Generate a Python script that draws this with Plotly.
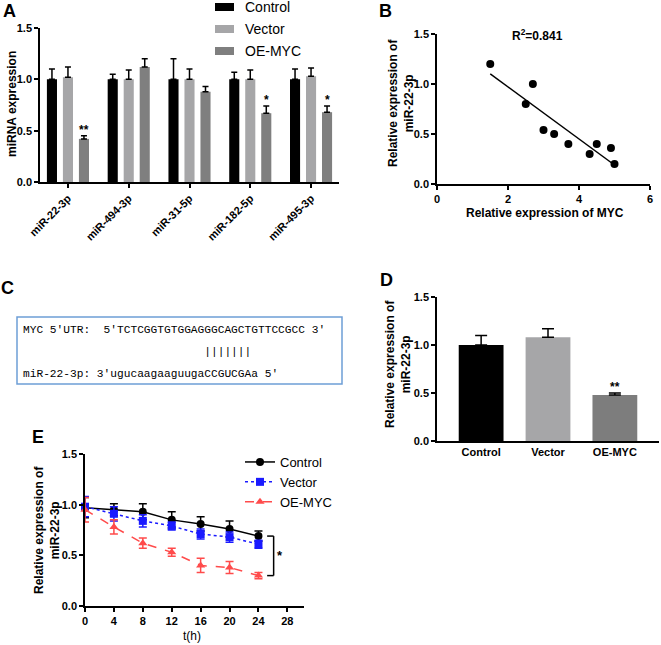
import numpy as np
import plotly.graph_objects as go

W, H = 661, 645
def fx(p): return p / W
def fy(p): return 1 - p / H

FONT = "Arial, Liberation Sans, sans-serif"
MONO = "Courier New, Liberation Mono, monospace"

# ---------------- Panel A data ----------------
mirnas = ["miR-22-3p", "miR-494-3p", "miR-31-5p", "miR-182-5p", "miR-495-3p"]
a_series = ["Control", "Vector", "OE-MYC"]
a_control = [1.00, 1.00, 1.00, 1.00, 1.00]
a_control_err = [0.10, 0.05, 0.20, 0.07, 0.10]
a_vector = [1.02, 1.00, 1.00, 1.00, 1.03]
a_vector_err = [0.10, 0.09, 0.10, 0.09, 0.08]
a_oe = [0.42, 1.12, 0.88, 0.67, 0.68]
a_oe_err = [0.03, 0.08, 0.05, 0.07, 0.06]
a_sig = ["**", "", "", "*", "*"]

# ---------------- Panel B data ----------------
b_myc = [1.5, 2.5, 2.7, 3.0, 3.3, 3.7, 4.3, 4.5, 4.9, 5.0]
b_mir = [1.20, 0.80, 1.00, 0.54, 0.50, 0.40, 0.30, 0.40, 0.36, 0.20]
b_r2 = "0.841"

# ---------------- Panel C text ----------------
c_lines = [
    "MYC 5′UTR:  5'TCTCGGTGTGGAGGGCAGCTGTTCCGCC 3'",
    " " * 27 + "|||||||",
    "miR-22-3p: 3'ugucaagaaguugaCCGUCGAa 5'",
]

# ---------------- Panel D data ----------------
d_groups = ["Control", "Vector", "OE-MYC"]
d_vals = [1.00, 1.08, 0.48]
d_err = [0.10, 0.09, 0.02]
d_sig = ["", "", "**"]

# ---------------- Panel E data ----------------
e_t = [0, 4, 8, 12, 16, 20, 24]
e_control = [0.97, 0.95, 0.93, 0.85, 0.81, 0.76, 0.69]
e_control_err = [0.10, 0.06, 0.08, 0.08, 0.07, 0.08, 0.05]
e_vector = [0.98, 0.91, 0.84, 0.79, 0.71, 0.68, 0.61]
e_vector_err = [0.10, 0.07, 0.06, 0.04, 0.05, 0.05, 0.04]
e_oe = [0.95, 0.78, 0.62, 0.53, 0.40, 0.38, 0.30]
e_oe_err = [0.12, 0.07, 0.05, 0.04, 0.07, 0.06, 0.03]

C_BLACK = "#000000"
C_LGRAY = "#a6a6a8"
C_DGRAY = "#7f7f7f"
A_COLORS = [C_BLACK, C_LGRAY, C_DGRAY]

fig = go.Figure()

# ---- A: grouped bars ----
for name, vals, errs, col in zip(a_series, [a_control, a_vector, a_oe],
                                 [a_control_err, a_vector_err, a_oe_err], A_COLORS):
    fig.add_trace(go.Bar(
        x=mirnas, y=vals, name=name, marker=dict(color=col, line=dict(width=0)),
        error_y=dict(type="data", array=errs, arrayminus=[0] * len(errs), symmetric=False,
                     color="black", thickness=1.5, width=3),
        showlegend=False, xaxis="x", yaxis="y"))

# ---- B: scatter + regression ----
fig.add_trace(go.Scatter(x=b_myc, y=b_mir, mode="markers",
                         marker=dict(color="black", size=8), showlegend=False,
                         xaxis="x2", yaxis="y2"))
slope, icpt = np.polyfit(b_myc, b_mir, 1)
lx = np.array([min(b_myc), max(b_myc)])
fig.add_trace(go.Scatter(x=lx, y=slope * lx + icpt, mode="lines",
                         line=dict(color="black", width=1.5), showlegend=False,
                         xaxis="x2", yaxis="y2"))

# ---- D: bars ----
fig.add_trace(go.Bar(
    x=d_groups, y=d_vals, width=0.67,
    marker=dict(color=[C_BLACK, C_LGRAY, "#7d7d7d"], line=dict(width=0)),
    error_y=dict(type="data", array=d_err, arrayminus=[0] * 3, symmetric=False,
                 color="black", thickness=1.5, width=6),
    showlegend=False, xaxis="x3", yaxis="y3"))

# ---- E: time course ----
for name, vals, errs, col, sym, dash in [
        ("Control", e_control, e_control_err, "#000000", "circle", "solid"),
        ("Vector", e_vector, e_vector_err, "#1a1aff", "square", "dot"),
        ("OE-MYC", e_oe, e_oe_err, "#ff4b4b", "triangle-up", "dash")]:
    fig.add_trace(go.Scatter(
        x=e_t, y=vals, name=name, mode="lines+markers",
        line=dict(color=col, width=1.5, dash=dash),
        marker=dict(color=col, size=8, symbol=sym),
        error_y=dict(type="data", array=errs, color=col, thickness=1.5, width=4),
        cliponaxis=False, xaxis="x4", yaxis="y4", legend="legend"))

TICKFONT = dict(family=FONT, size=11, color="black", weight="bold")

def axis_style(**kw):
    d = dict(showline=True, linecolor="black", linewidth=1.5, ticks="outside",
             ticklen=4, tickwidth=1.5, tickcolor="black", showgrid=False,
             zeroline=False, automargin=False, tickfont=TICKFONT)
    d.update(kw)
    return d

fig.update_layout(
    width=W, height=H, margin=dict(l=0, r=0, t=0, b=0),
    paper_bgcolor="white", plot_bgcolor="white",
    barmode="group", bargap=0.21, bargroupgap=0.37,
    font=dict(family=FONT, color="black"),
    # A
    xaxis=axis_style(domain=[fx(40), fx(339)], anchor="y", range=[-0.46, 4.46],
                     tickangle=-45, type="category"),
    yaxis=axis_style(domain=[fy(182), fy(28)], anchor="x", range=[0, 1.5], dtick=0.5,
                     tickformat=".1f"),
    # B
    xaxis2=axis_style(domain=[fx(437), fx(650)], anchor="y2", range=[0, 6], dtick=2),
    yaxis2=axis_style(domain=[fy(184), fy(34)], anchor="x2", range=[0, 1.5], dtick=0.5,
                      tickformat=".1f"),
    # D
    xaxis3=axis_style(domain=[fx(437), fx(659)], anchor="y3", range=[-0.66, 2.66],
                      ticks=""),
    yaxis3=axis_style(domain=[fy(441), fy(297)], anchor="x3", range=[0, 1.5], dtick=0.5,
                      tickformat=".1f"),
    # E
    xaxis4=axis_style(domain=[fx(85), fx(304)], anchor="y4", range=[0, 30.3], dtick=4,
                      tick0=0),
    yaxis4=axis_style(domain=[fy(606), fy(454)], anchor="x4", range=[0, 1.5], dtick=0.5,
                      tickformat=".1f"),
    legend=dict(x=fx(240), y=fy(447), xanchor="left", yanchor="top",
                font=dict(family=FONT, size=13, color="black"), bgcolor="rgba(0,0,0,0)"),
)

ann = []
def text_ann(text, x, y, size=12, bold=True, angle=0, family=FONT, xanchor="center"):
    f = dict(family=family, size=size, color="black")
    if bold:
        f["weight"] = "bold"
    return dict(text=text, x=fx(x), y=fy(y), xref="paper", yref="paper",
                xanchor=xanchor, yanchor="middle", showarrow=False,
                textangle=angle, font=f)

# panel letters
for letter, x, y in [("A", 9, 11), ("B", 385, 11), ("C", 7, 288), ("D", 386, 280), ("E", 38, 437)]:
    ann.append(text_ann(letter, x, y, size=18))

# axis titles
ann.append(text_ann("miRNA expression", 12, 104, angle=-90))
ann.append(text_ann("Relative expression of<br>miR-22-3p", 401, 103, angle=-90))
ann.append(text_ann("Relative expression of MYC", 545, 213))
ann.append(text_ann("Relative expression of<br>miR-22-3p", 398, 364, angle=-90))
ann.append(text_ann("Relative expression of<br>miR-22-3p", 47, 530, angle=-90))
ann.append(text_ann("t(h)", 192, 636, size=12, bold=False))

# A legend (keys + labels)
shapes = []
for i, (name, col) in enumerate(zip(a_series, A_COLORS)):
    yc = 7 + 22 * i
    shapes.append(dict(type="rect", xref="paper", yref="paper",
                       x0=fx(215), x1=fx(234), y0=fy(yc + 4), y1=fy(yc - 4),
                       fillcolor=col, line=dict(width=0)))
    ann.append(text_ann(name, 243, yc, size=14, bold=False, xanchor="left"))

# A significance stars
for cat, v, e, s in zip(mirnas, a_oe, a_oe_err, a_sig):
    if s:
        ann.append(dict(text=s, x=cat, y=v + e, xref="x", yref="y", xshift=16, yshift=-3,
                        xanchor="center", yanchor="bottom", showarrow=False,
                        font=dict(family=FONT, size=12, color="black", weight="bold")))
# B R^2
ann.append(text_ann("R<sup>2</sup>=" + b_r2, 537, 35))
# C text lines
for line, y in zip(c_lines, [330, 352, 374]):
    ann.append(text_ann(line.replace(" ", "\u00a0"), 21, y, size=11.2, bold=False,
                        family=MONO, xanchor="left"))
# D stars
for g, v, e, s in zip(d_groups, d_vals, d_err, d_sig):
    if s:
        ann.append(dict(text=s, x=g, y=v + e, xref="x3", yref="y3", yshift=-3,
                        xanchor="center", yanchor="bottom", showarrow=False,
                        font=dict(family=FONT, size=12, color="black", weight="bold")))
# E bracket star
bx = 26.1
ann.append(dict(text="*", x=bx + 0.9, y=(e_control[-1] + e_oe[-1]) / 2, xref="x4", yref="y4",
                showarrow=False, xanchor="center", yanchor="middle",
                font=dict(family=FONT, size=13, color="black", weight="bold")))
fig.update_layout(annotations=ann)

shapes += [
    dict(type="rect", xref="paper", yref="paper", x0=fx(17), x1=fx(342), y0=fy(384), y1=fy(317),
         line=dict(color="#6e9ed6", width=1.5)),
    dict(type="line", xref="x4", yref="y4", x0=bx - 0.9, x1=bx, y0=e_control[-1], y1=e_control[-1],
         line=dict(color="black", width=1.5)),
    dict(type="line", xref="x4", yref="y4", x0=bx, x1=bx, y0=e_oe[-1], y1=e_control[-1],
         line=dict(color="black", width=1.5)),
    dict(type="line", xref="x4", yref="y4", x0=bx - 0.9, x1=bx, y0=e_oe[-1], y1=e_oe[-1],
         line=dict(color="black", width=1.5)),
]
fig.update_layout(shapes=shapes)

# remove the browser's default 8px body margin so the figure fills the window
fig.write_html("out.html", config={"displayModeBar": False},
               post_script="document.body.style.margin='0px';")
